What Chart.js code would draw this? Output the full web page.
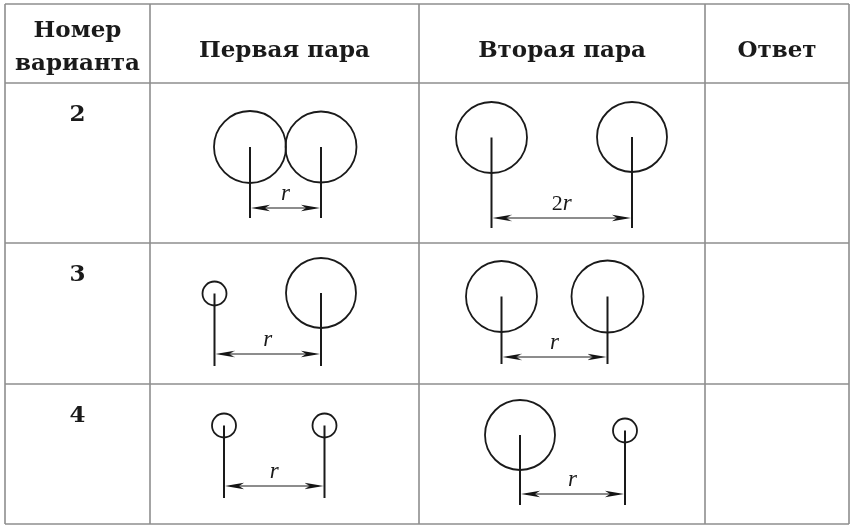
<!DOCTYPE html>
<html>
<head>
<meta charset="utf-8">
<script src="https://cdn.jsdelivr.net/npm/chart.js@4/dist/chart.umd.min.js"></script>
<style>
  html, body { margin: 0; padding: 0; background: #ffffff; }
  #wrap { width: 851px; height: 526px; }
</style>
</head>
<body>
<div id="wrap"><canvas id="c" width="851" height="526"></canvas></div>
<script>
// ---- Table structure (diagram coordinates) ----
const colX = [5, 150, 419, 705, 849];
const rowY = [4, 83, 243, 384, 524];
const headers = [['Номер', 'варианта'], ['Первая пара'], ['Вторая пара'], ['Ответ']];
const variants = ['2', '3', '4'];

// ---- Six circle pairs (row 2 first, row 2 second, row 3 first, ...) ----
const circleAX = [250, 491.5, 214.5, 501.5, 224, 520];
const circleAY = [147, 137.5, 293.5, 296.5, 425.5, 435];
const circleAR = [36, 35.5, 12, 35.5, 12, 35];
const circleBX = [321, 632, 321, 607.5, 324.5, 625];
const circleBY = [147, 137, 293, 296.5, 425.5, 430.5];
const circleBR = [35.5, 35, 35, 36, 12, 12];
const stemBottom = [218, 228, 366, 364, 498, 505];
const arrowY = [208, 218, 354, 357, 486, 494];
const distLabels = ['r', '2r', 'r', 'r', 'r', 'r'];

const GRID = '#8e8e8e';
const INK = '#1a1a1a';

// arrowhead image (tip on the right)
const HEAD_W = 19, HEAD_H = 8;
const head = document.createElement('canvas');
head.width = HEAD_W; head.height = HEAD_H;
(function () {
  const g = head.getContext('2d');
  g.fillStyle = '#111';
  g.beginPath();
  g.moveTo(HEAD_W, HEAD_H / 2);
  g.lineTo(0, 0.8);
  g.lineTo(5, HEAD_H / 2);
  g.lineTo(0, HEAD_H - 0.8);
  g.closePath();
  g.fill();
})();

const datasets = [];
function seg(x1, y1, x2, y2, color, w) {
  datasets.push({
    type: 'scatter', showLine: true, data: [{x: x1, y: y1}, {x: x2, y: y2}],
    borderColor: color, borderWidth: w, pointRadius: 0, pointHoverRadius: 0,
    fill: false, tension: 0, borderCapStyle: 'butt', clip: false
  });
}
// grid
colX.forEach(x => seg(x, rowY[0], x, rowY[rowY.length - 1], GRID, 1.6));
rowY.forEach(y => seg(colX[0], y, colX[colX.length - 1], y, GRID, 1.6));

// circles
const cx = circleAX.concat(circleBX);
const cy = circleAY.concat(circleBY);
const cr = circleAR.concat(circleBR);
datasets.push({
  type: 'scatter', clip: false,
  data: cx.map((x, i) => ({x: x, y: cy[i]})),
  pointStyle: 'circle',
  pointRadius: ctx => cr[ctx.dataIndex],
  pointHoverRadius: ctx => cr[ctx.dataIndex],
  pointBackgroundColor: 'rgba(0,0,0,0)',
  pointBorderColor: INK,
  pointBorderWidth: 1.8
});
// stems and arrows
const headPts = [], headRot = [];
for (let i = 0; i < circleAX.length; i++) {
  seg(circleAX[i], circleAY[i], circleAX[i], stemBottom[i], INK, 2);
  seg(circleBX[i], circleBY[i], circleBX[i], stemBottom[i], INK, 2);
  seg(circleAX[i] + 6, arrowY[i], circleBX[i] - 6, arrowY[i], INK, 1);
  headPts.push({x: circleAX[i] + 1 + HEAD_W / 2, y: arrowY[i]}); headRot.push(180);
  headPts.push({x: circleBX[i] - 1 - HEAD_W / 2, y: arrowY[i]}); headRot.push(0);
}
datasets.push({
  type: 'scatter', data: headPts, pointStyle: head, clip: false,
  rotation: ctx => headRot[ctx.dataIndex],
  pointRotation: ctx => headRot[ctx.dataIndex],
  pointRadius: 10, pointHoverRadius: 10
});

const textPlugin = {
  id: 'tableText',
  afterDatasetsDraw(chart) {
    const ctx = chart.ctx, sx = chart.scales.x, sy = chart.scales.y;
    ctx.save();
    ctx.fillStyle = INK;
    ctx.textAlign = 'center';
    ctx.textBaseline = 'alphabetic';
    // headers
    ctx.font = 'bold 23px "DejaVu Serif"';
    headers.forEach((lines, i) => {
      const x = sx.getPixelForValue((colX[i] + colX[i + 1]) / 2);
      if (lines.length === 2) {
        ctx.fillText(lines[0], x, sy.getPixelForValue(rowY[0] + 33));
        ctx.fillText(lines[1], x, sy.getPixelForValue(rowY[0] + 66));
      } else {
        ctx.fillText(lines[0], x, sy.getPixelForValue(rowY[0] + 52.5));
      }
    });
    // variant numbers
    ctx.font = '600 23px "DejaVu Serif"';
    variants.forEach((v, i) => {
      ctx.fillText(v, sx.getPixelForValue((colX[0] + colX[1]) / 2), sy.getPixelForValue(rowY[i + 1] + 38));
    });
    // distance labels: digits upright, letters italic
    distLabels.forEach((lab, i) => {
      const mid = sx.getPixelForValue((circleAX[i] + circleBX[i]) / 2);
      const y = sy.getPixelForValue(arrowY[i] - 8);
      const m = lab.match(/^(\d*)(.*)$/);
      const fUp = '22px "Liberation Serif"', fIt = 'italic 23px "Liberation Serif"';
      ctx.font = fUp; const w1 = ctx.measureText(m[1]).width;
      ctx.font = fIt; const w2 = ctx.measureText(m[2]).width;
      let x0 = mid - (w1 + w2) / 2;
      ctx.textAlign = 'left';
      ctx.font = fUp; ctx.fillText(m[1], x0, y);
      ctx.font = fIt; ctx.fillText(m[2], x0 + w1, y);
      ctx.textAlign = 'center';
    });
    ctx.restore();
  }
};

new Chart(document.getElementById('c'), {
  type: 'scatter',
  data: { datasets: datasets },
  options: {
    responsive: false, animation: false, devicePixelRatio: 1,
    layout: { padding: 0, autoPadding: false },
    events: [],
    plugins: { legend: { display: false }, tooltip: { enabled: false } },
    scales: {
      x: { type: 'linear', min: 0, max: 851, display: false },
      y: { type: 'linear', min: 0, max: 526, reverse: true, display: false }
    }
  },
  plugins: [textPlugin]
});
</script>
</body>
</html>
